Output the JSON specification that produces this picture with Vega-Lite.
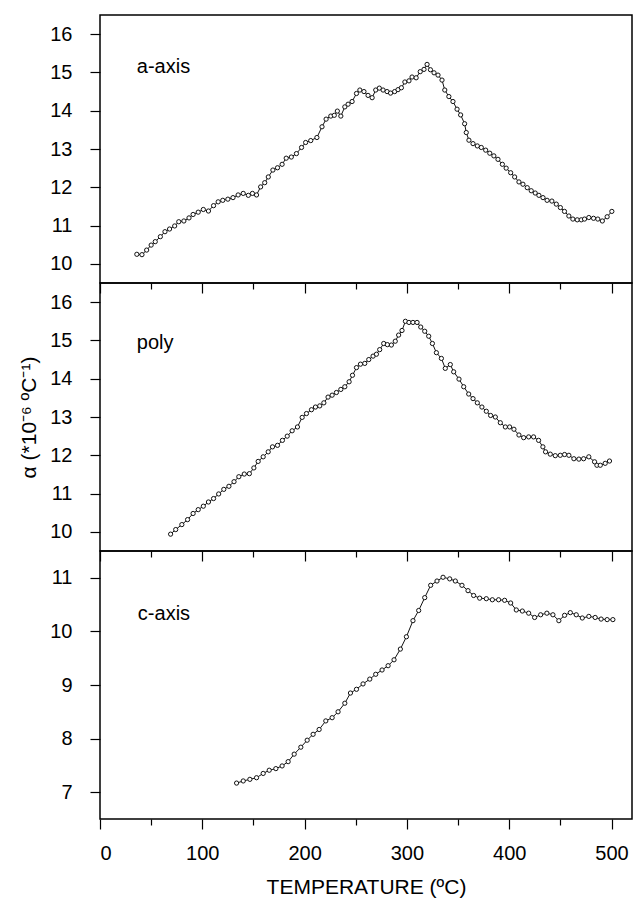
{
  "$schema": "https://vega.github.io/schema/vega-lite/v6.json",
  "padding": {"left": 18, "top": 14, "right": 2, "bottom": 0},
  "autosize": {"type": "pad"},
  "background": "white",
  "bounds": "flush",
  "config": {
    "font": "Liberation Sans",
    "view": {"stroke": "#000", "strokeWidth": 1.5},
    "axis": {"domain": false, "grid": false, "tickColor": "#000", "tickWidth": 1.2, "labelColor": "#000", "labelFont": "Liberation Sans", "labelFontSize": 20, "titleFont": "Liberation Sans", "titleFontWeight": "normal", "titleColor": "#000", "titleFontSize": 21}
  },
  "spacing": 0,
  "datasets": {
    "a": [
      {"T":36,"v":10.25},{"T":41,"v":10.24},{"T":45.6,"v":10.36},{"T":50,"v":10.49},{"T":54,"v":10.58},{"T":59,"v":10.71},{"T":63.5,"v":10.84},{"T":68,"v":10.91},{"T":73,"v":10.99},{"T":77,"v":11.10},{"T":82,"v":11.12},{"T":87,"v":11.20},{"T":91,"v":11.29},{"T":96,"v":11.35},{"T":101,"v":11.42},{"T":106,"v":11.38},{"T":111,"v":11.52},{"T":115.5,"v":11.62},{"T":120,"v":11.66},{"T":125,"v":11.69},{"T":130,"v":11.73},{"T":135,"v":11.80},{"T":140,"v":11.84},{"T":145,"v":11.79},{"T":149,"v":11.84},{"T":153,"v":11.80},{"T":157,"v":12.01},{"T":161,"v":12.12},{"T":164.5,"v":12.27},{"T":169,"v":12.45},{"T":173.5,"v":12.51},{"T":178,"v":12.60},{"T":182,"v":12.76},{"T":187,"v":12.79},{"T":192,"v":12.88},{"T":197,"v":13.04},{"T":201,"v":13.17},{"T":206,"v":13.22},{"T":212,"v":13.30},{"T":217,"v":13.58},{"T":221,"v":13.78},{"T":225.6,"v":13.86},{"T":229,"v":13.88},{"T":232,"v":13.99},{"T":235.4,"v":13.86},{"T":239.3,"v":14.10},{"T":242.5,"v":14.17},{"T":246.4,"v":14.24},{"T":250.7,"v":14.45},{"T":254,"v":14.54},{"T":258,"v":14.50},{"T":262,"v":14.40},{"T":266,"v":14.34},{"T":269.5,"v":14.54},{"T":273,"v":14.59},{"T":276.7,"v":14.54},{"T":280.6,"v":14.50},{"T":284,"v":14.46},{"T":288,"v":14.50},{"T":291.3,"v":14.55},{"T":294.6,"v":14.60},{"T":298,"v":14.75},{"T":302,"v":14.78},{"T":305,"v":14.88},{"T":309,"v":14.86},{"T":313,"v":15.02},{"T":316.7,"v":15.08},{"T":319.7,"v":15.21},{"T":323,"v":15.07},{"T":326.5,"v":14.99},{"T":330.4,"v":14.93},{"T":334.3,"v":14.80},{"T":337,"v":14.54},{"T":341,"v":14.37},{"T":345,"v":14.24},{"T":349,"v":14.04},{"T":352.5,"v":13.89},{"T":356.4,"v":13.66},{"T":358,"v":13.43},{"T":360.6,"v":13.23},{"T":364.6,"v":13.14},{"T":368.8,"v":13.08},{"T":372.7,"v":13.04},{"T":377,"v":12.97},{"T":381,"v":12.89},{"T":385,"v":12.82},{"T":389,"v":12.73},{"T":393.3,"v":12.60},{"T":397,"v":12.50},{"T":401.4,"v":12.38},{"T":405.3,"v":12.27},{"T":409.5,"v":12.14},{"T":413.4,"v":12.08},{"T":417.6,"v":11.99},{"T":421.5,"v":11.91},{"T":425.4,"v":11.85},{"T":429,"v":11.79},{"T":433,"v":11.73},{"T":437,"v":11.66},{"T":441.7,"v":11.64},{"T":446,"v":11.56},{"T":450,"v":11.47},{"T":454,"v":11.37},{"T":458.3,"v":11.25},{"T":462.2,"v":11.17},{"T":466.5,"v":11.15},{"T":470.4,"v":11.15},{"T":473.6,"v":11.17},{"T":477.8,"v":11.21},{"T":482.4,"v":11.19},{"T":486.6,"v":11.17},{"T":491,"v":11.12},{"T":495.7,"v":11.23},{"T":500.3,"v":11.37}
    ],
    "poly": [
      {"T":69,"v":9.94},{"T":74,"v":10.06},{"T":80,"v":10.19},{"T":85.6,"v":10.32},{"T":91,"v":10.48},{"T":96,"v":10.58},{"T":101,"v":10.67},{"T":106,"v":10.78},{"T":111,"v":10.87},{"T":116,"v":10.99},{"T":121,"v":11.11},{"T":126,"v":11.19},{"T":131,"v":11.31},{"T":135.7,"v":11.44},{"T":141,"v":11.51},{"T":146,"v":11.52},{"T":150.4,"v":11.67},{"T":154.6,"v":11.84},{"T":159.5,"v":11.96},{"T":164.4,"v":12.09},{"T":168.6,"v":12.22},{"T":173.5,"v":12.26},{"T":178.3,"v":12.39},{"T":183,"v":12.50},{"T":187.8,"v":12.64},{"T":193,"v":12.74},{"T":197.6,"v":12.99},{"T":201.8,"v":13.09},{"T":206.7,"v":13.19},{"T":210.6,"v":13.26},{"T":214.8,"v":13.29},{"T":218.8,"v":13.37},{"T":222.9,"v":13.52},{"T":226.9,"v":13.57},{"T":231.1,"v":13.64},{"T":235.4,"v":13.72},{"T":239.3,"v":13.79},{"T":243.5,"v":13.92},{"T":246.8,"v":14.09},{"T":250.7,"v":14.29},{"T":254.6,"v":14.38},{"T":258.8,"v":14.40},{"T":262.7,"v":14.50},{"T":266.9,"v":14.59},{"T":270.2,"v":14.64},{"T":273.4,"v":14.76},{"T":277.3,"v":14.92},{"T":280.9,"v":14.89},{"T":284.8,"v":14.88},{"T":288.6,"v":14.98},{"T":291.9,"v":15.14},{"T":295.2,"v":15.26},{"T":298.5,"v":15.50},{"T":302,"v":15.47},{"T":305.9,"v":15.47},{"T":309.9,"v":15.47},{"T":313.5,"v":15.35},{"T":317.4,"v":15.24},{"T":321.3,"v":15.11},{"T":324.9,"v":14.92},{"T":328.8,"v":14.68},{"T":333.7,"v":14.53},{"T":337.5,"v":14.27},{"T":342.4,"v":14.37},{"T":345.7,"v":14.18},{"T":350.9,"v":13.99},{"T":355.5,"v":13.79},{"T":360.4,"v":13.60},{"T":364.6,"v":13.48},{"T":368.8,"v":13.37},{"T":373.3,"v":13.26},{"T":377.6,"v":13.15},{"T":381.8,"v":13.04},{"T":386.4,"v":13.00},{"T":391.3,"v":12.85},{"T":396.2,"v":12.74},{"T":400.4,"v":12.74},{"T":404.6,"v":12.68},{"T":409.5,"v":12.53},{"T":414.1,"v":12.46},{"T":419,"v":12.48},{"T":423.8,"v":12.48},{"T":428.7,"v":12.39},{"T":432.9,"v":12.22},{"T":435.5,"v":12.09},{"T":440.1,"v":12.03},{"T":445,"v":11.99},{"T":449.9,"v":12.00},{"T":454.1,"v":12.02},{"T":458.3,"v":12.00},{"T":463.2,"v":11.91},{"T":468.1,"v":11.90},{"T":472.7,"v":11.91},{"T":477.8,"v":11.96},{"T":483.4,"v":11.83},{"T":485.7,"v":11.74},{"T":489,"v":11.74},{"T":493.8,"v":11.79},{"T":498,"v":11.85}
    ],
    "c": [
      {"T":133.5,"v":7.17},{"T":140,"v":7.21},{"T":146.5,"v":7.24},{"T":153,"v":7.27},{"T":159.5,"v":7.35},{"T":165.4,"v":7.41},{"T":171.9,"v":7.44},{"T":178,"v":7.49},{"T":183.9,"v":7.57},{"T":189.8,"v":7.71},{"T":196.3,"v":7.84},{"T":202.5,"v":7.97},{"T":208.3,"v":8.08},{"T":214.2,"v":8.17},{"T":220.7,"v":8.33},{"T":226.9,"v":8.39},{"T":232.7,"v":8.50},{"T":239.3,"v":8.66},{"T":244.8,"v":8.85},{"T":250.7,"v":8.92},{"T":257.1,"v":9.02},{"T":263.7,"v":9.11},{"T":269.5,"v":9.20},{"T":275.7,"v":9.28},{"T":281.6,"v":9.36},{"T":287.4,"v":9.47},{"T":293.6,"v":9.67},{"T":299.5,"v":9.90},{"T":305.9,"v":10.20},{"T":311.5,"v":10.39},{"T":317.4,"v":10.63},{"T":323.2,"v":10.86},{"T":329.4,"v":10.94},{"T":335.3,"v":11.01},{"T":341.8,"v":10.98},{"T":347.3,"v":10.94},{"T":353.8,"v":10.86},{"T":359.7,"v":10.76},{"T":365.2,"v":10.67},{"T":371.1,"v":10.62},{"T":377.6,"v":10.61},{"T":383.5,"v":10.59},{"T":389.6,"v":10.59},{"T":395.5,"v":10.58},{"T":401.4,"v":10.53},{"T":406.9,"v":10.40},{"T":412.8,"v":10.38},{"T":419,"v":10.34},{"T":424.8,"v":10.26},{"T":430.7,"v":10.31},{"T":436.8,"v":10.34},{"T":442.7,"v":10.31},{"T":448.5,"v":10.20},{"T":454.1,"v":10.30},{"T":459.7,"v":10.35},{"T":465.5,"v":10.31},{"T":471.4,"v":10.25},{"T":477.8,"v":10.28},{"T":484,"v":10.26},{"T":489.8,"v":10.23},{"T":495.7,"v":10.22},{"T":501.3,"v":10.22}
    ]
  },
  "vconcat": [
    {
      "width": 532, "height": 268,
      "data": {"name": "a"},
      "encoding": {
        "x": {"field": "T", "type": "quantitative", "scale": {"domain": [0, 520], "nice": false, "zero": false},
              "axis": {"title": null, "labels": false, "values": [0,50,100,150,200,250,300,350,400,450,500],
                       "tickSize": {"condition": {"test": "datum.value % 100 === 0", "value": 10}, "value": 6}}},
        "y": {"field": "v", "type": "quantitative", "scale": {"domain": [9.5, 16.5], "nice": false, "zero": false},
              "axis": {"title": null, "values": [10,10.5,11,11.5,12,12.5,13,13.5,14,14.5,15,15.5,16], "format": "d",
                       "labelExpr": "datum.value % 1 === 0 ? datum.label : ''", "labelPadding": 18,
                       "tickSize": {"condition": {"test": "datum.value % 1 === 0", "value": 10}, "value": 6}}}
      },
      "layer": [
        {"mark": {"type": "line", "color": "#111", "strokeWidth": 1}},
        {"mark": {"type": "point", "shape": "circle", "filled": true, "fill": "white", "stroke": "#111", "strokeWidth": 1, "size": 18, "opacity": 1}},
        {"data": {"values": [{"T": 36, "v": 15.13, "label": "a-axis"}]},
         "mark": {"type": "text", "align": "left", "baseline": "middle", "fontSize": 20, "font": "Liberation Sans", "color": "#000"},
         "encoding": {"text": {"field": "label"}}}
      ]
    },
    {
      "width": 532, "height": 268,
      "data": {"name": "poly"},
      "encoding": {
        "x": {"field": "T", "type": "quantitative", "scale": {"domain": [0, 520], "nice": false, "zero": false},
              "axis": {"title": null, "labels": false, "values": [0,50,100,150,200,250,300,350,400,450,500],
                       "tickSize": {"condition": {"test": "datum.value % 100 === 0", "value": 10}, "value": 6}}},
        "y": {"field": "v", "type": "quantitative", "scale": {"domain": [9.5, 16.5], "nice": false, "zero": false},
              "axis": {"title": "α (*10⁻⁶ ºC⁻¹)", "titlePadding": 10, "values": [10,10.5,11,11.5,12,12.5,13,13.5,14,14.5,15,15.5,16], "format": "d",
                       "labelExpr": "datum.value % 1 === 0 ? datum.label : ''", "labelPadding": 18,
                       "tickSize": {"condition": {"test": "datum.value % 1 === 0", "value": 10}, "value": 6}}}
      },
      "layer": [
        {"mark": {"type": "line", "color": "#111", "strokeWidth": 1}},
        {"mark": {"type": "point", "shape": "circle", "filled": true, "fill": "white", "stroke": "#111", "strokeWidth": 1, "size": 18, "opacity": 1}},
        {"data": {"values": [{"T": 36, "v": 14.93, "label": "poly"}]},
         "mark": {"type": "text", "align": "left", "baseline": "middle", "fontSize": 20, "font": "Liberation Sans", "color": "#000"},
         "encoding": {"text": {"field": "label"}}}
      ]
    },
    {
      "width": 532, "height": 268,
      "data": {"name": "c"},
      "encoding": {
        "x": {"field": "T", "type": "quantitative", "scale": {"domain": [0, 520], "nice": false, "zero": false},
              "axis": {"title": "TEMPERATURE (ºC)", "titlePadding": 13, "values": [0,50,100,150,200,250,300,350,400,450,500], "format": "d",
                       "labelExpr": "datum.value % 100 === 0 ? datum.label : ''", "labelPadding": 14,
                       "tickSize": {"condition": {"test": "datum.value % 100 === 0", "value": 10}, "value": 6}}},
        "y": {"field": "v", "type": "quantitative", "scale": {"domain": [6.5, 11.5], "nice": false, "zero": false},
              "axis": {"title": null, "values": [7,7.5,8,8.5,9,9.5,10,10.5,11], "format": "d",
                       "labelExpr": "datum.value % 1 === 0 ? datum.label : ''", "labelPadding": 18,
                       "tickSize": {"condition": {"test": "datum.value % 1 === 0", "value": 10}, "value": 6}}}
      },
      "layer": [
        {"mark": {"type": "line", "color": "#111", "strokeWidth": 1}},
        {"mark": {"type": "point", "shape": "circle", "filled": true, "fill": "white", "stroke": "#111", "strokeWidth": 1, "size": 18, "opacity": 1}},
        {"data": {"values": [{"T": 37, "v": 10.33, "label": "c-axis"}]},
         "mark": {"type": "text", "align": "left", "baseline": "middle", "fontSize": 20, "font": "Liberation Sans", "color": "#000"},
         "encoding": {"text": {"field": "label"}}}
      ]
    }
  ]
}
